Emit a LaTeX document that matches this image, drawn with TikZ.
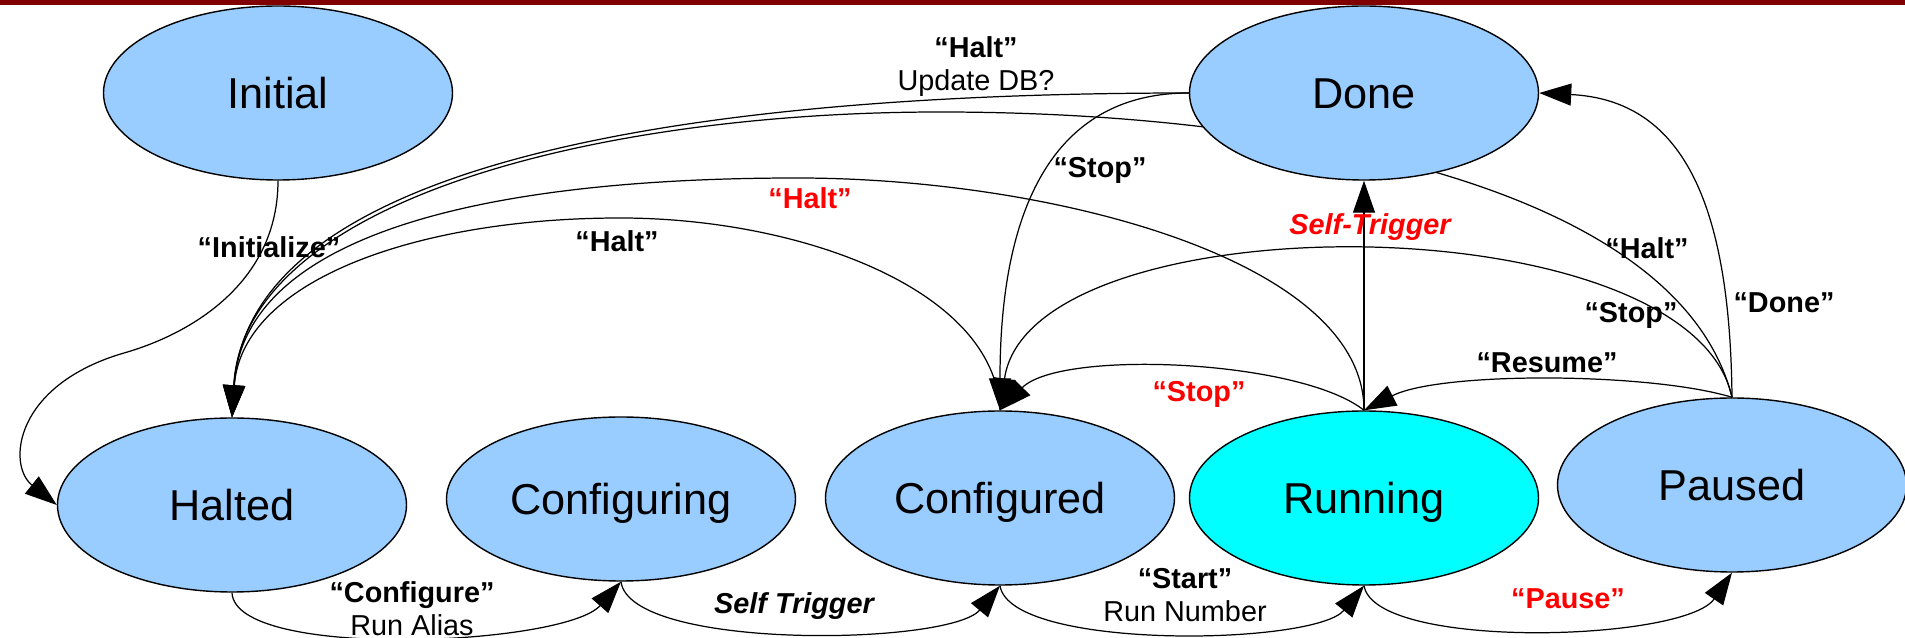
\documentclass[tikz,border=0pt]{standalone}
\usepackage{fontspec}
\setmainfont{Liberation Sans}
\usetikzlibrary{shapes.geometric, arrows.meta, backgrounds}

\definecolor{statefill}{HTML}{99CCFF}
\definecolor{activefill}{HTML}{00FFFF}
\definecolor{barred}{HTML}{800000}

\tikzset{
    state/.style={ellipse, draw=black, line width=0.4pt, fill=statefill,
        minimum width=34.9mm, minimum height=17.4mm, inner sep=0pt,
        font=\fontsize{12.3}{14}\selectfont, text height=3.1mm, text depth=0pt},
    trans/.style={line width=0.35pt, -{Triangle[length=3.2mm,width=2.2mm]}},
    lbl/.style={font=\fontsize{8.2}{9.6}\selectfont\bfseries, inner sep=0pt,
        text height=2.1mm, text depth=0pt},
    lbltwo/.style={font=\fontsize{8.2}{9.4}\selectfont, inner sep=0pt, align=center},
    trig/.style={lbl, font=\fontsize{8.2}{9.6}\selectfont\bfseries\itshape},
    hot/.style={text=red}
}

\begin{document}
\begin{tikzpicture}[x=0.1mm, y=-0.1mm]
        \useasboundingbox (0,0) rectangle (1905,638);

        % states
        \node[state] (initial) at (278,93) {Initial};
        \node[state] (done) at (1364,93) {Done};
        \node[state] (halted) at (232,505) {Halted};
        \node[state, minimum height=16.4mm] (configuring) at (621,499) {Configuring};
        \node[state] (configured) at (1000,498) {Configured};
        \node[state, fill=activefill] (running) at (1364,498) {Running};
        \node[state] (paused) at (1732,485) {Paused};

        \coordinate (bendinit) at (124,353);
        \coordinate (bendpausedhalt) at (940,112);
        \coordinate (bendrunhalt) at (797,178);
        \coordinate (bendcfghalt) at (620,218);

        % transitions, kept under the states
        \begin{pgfonlayer}{background}
            \fill[white] (0,0) rectangle (1905,638);
            \draw[trans] (initial.south) .. controls +(0,100) and +(70,-20) .. (bendinit)
                .. controls +(-110,32) and +(-50,-40) .. (halted.west);
            \draw[trans] (done.west) .. controls +(-490,0) and +(17,-258) .. (halted.north);
            \draw[trans] (paused.north) .. controls +(-52,-207) and +(360,0) .. (bendpausedhalt)
                .. controls +(-340,0) and +(12,-218) .. (halted.north);
            \draw[trans] (running.north) .. controls +(0,-151) and +(253,0) .. (bendrunhalt)
                .. controls +(-297,0) and +(12,-188) .. (halted.north);
            \draw[trans] (configured.north) .. controls +(-5,-121) and +(180,0) .. (bendcfghalt)
                .. controls +(-200,0) and +(10,-138) .. (halted.north);
            \draw[trans] (done.west) .. controls +(-130,0) and +(0,-211) .. (configured.north);
            \draw[trans] (paused.north) .. controls +(-42,-197) and +(30,-211) .. (configured.north);
            \draw[trans] (running.north) .. controls +(-64,-51) and +(60,-61) .. (configured.north);
            \draw[trans] (paused.north) .. controls +(-82,-25) and +(76,-39) .. (running.north);
            \draw[trans] (paused.north) .. controls +(-2,-197) and +(142,7) .. (done.east);
            \draw[trans] (running.north) -- (done.south);
            \draw[trans] (halted.south) .. controls +(3,68) and +(-56,64) .. (configuring.south);
            \draw[trans] (configuring.south) .. controls +(9,69) and +(-50,60) .. (configured.south);
            \draw[trans] (configured.south) .. controls +(10,65) and +(-49,60) .. (running.south);
            \draw[trans] (running.south) .. controls +(11,65) and +(-47,69) .. (paused.south);
        \end{pgfonlayer}

        \fill[barred] (0,0) rectangle (1905,5);

        % labels
        \node[lbl] (lInit) at (269,247) {“Initialize”};
        \node[lbltwo] (lHaltDb) at (976,67) {{\bfseries “Halt”}\\Update DB?};
        \node[lbl] (lHaltCfg) at (617,241) {“Halt”};
        \node[lbl, hot] (lHaltRun) at (810,198) {“Halt”};
        \node[lbl] (lStopDone) at (1100,167) {“Stop”};
        \node[lbl, hot] (lStopRun) at (1199,391) {“Stop”};
        \node[trig, hot] (lSelfDone) at (1370,224) {Self-Trigger};
        \node[lbl] (lHaltPaused) at (1647,248) {“Halt”};
        \node[lbl] (lStopPaused) at (1631,312) {“Stop”};
        \node[lbl] (lDone) at (1784,302) {“Done”};
        \node[lbl] (lResume) at (1547,362) {“Resume”};
        \node[lbltwo] (lConfigure) at (412,609) {{\bfseries “Configure”}\\Run Alias};
        \node[trig] (lSelfCfg) at (794,603) {Self Trigger};
        \node[lbltwo] (lStart) at (1185,595) {{\bfseries “Start”}\\Run Number};
        \node[lbl, hot] (lPause) at (1568,598) {“Pause”};
\end{tikzpicture}
\end{document}
